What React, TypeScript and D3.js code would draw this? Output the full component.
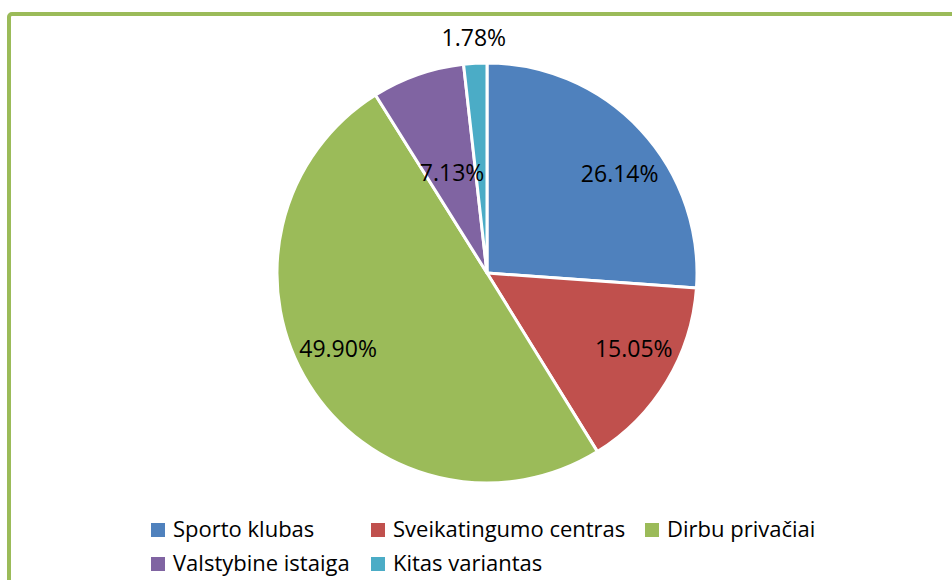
import React from 'react';
import * as d3 from 'd3';

const categories = ['Sporto klubas', 'Sveikatingumo centras', 'Dirbu privačiai', 'Valstybine istaiga', 'Kitas variantas'];
const shares = [26.14, 15.05, 49.9, 7.13, 1.78];
const colors = ['#4F81BD', '#C0504D', '#9BBB59', '#8064A2', '#4BACC6'];

// label placement: distance from centre and a small angular nudge (degrees)
const labelRadius = [166, 165, 167, 106, 236];
const labelNudge = [6, -4, 5, 0, 0];

const W = 952;
const H = 580;
const cx = 487;
const cy = 273;
const radius = 210;
const font = "'Open Sans', sans-serif";

const legendCols = [151, 371, 645];
const legendRows = [523, 557];

export default function App() {
  const pie = d3.pie<number>().sort(null).value(d => d);
  const arcs = pie(shares);
  const arc = d3.arc<d3.PieArcDatum<number>>().innerRadius(0).outerRadius(radius);

  return (
    <svg width={W} height={H} style={{ position: 'absolute', left: 0, top: 0, background: '#fff' }}>
      <rect x={9} y={14} width={W + 20} height={H + 20} rx={3} fill="#fff" stroke="#9BBB59" strokeWidth={4} />
      <g transform={`translate(${cx},${cy})`}>
        {arcs.map((a, i) => (
          <path key={i} d={arc(a) || ''} fill={colors[i]} stroke="#fff" strokeWidth={3} strokeLinejoin="round" />
        ))}
        {arcs.map((a, i) => {
          const mid = (a.startAngle + a.endAngle) / 2 + (labelNudge[i] * Math.PI) / 180;
          const x = Math.sin(mid) * labelRadius[i];
          const y = -Math.cos(mid) * labelRadius[i];
          return (
            <text key={i} x={x} y={y} dy="0.36em" textAnchor="middle" fontFamily={font} fontSize={23} fill="#000">
              {shares[i].toFixed(2)}%
            </text>
          );
        })}
      </g>
      {categories.map((c, i) => {
        const x = legendCols[i % 3];
        const y = legendRows[Math.floor(i / 3)];
        return (
          <g key={c} transform={`translate(${x},${y})`}>
            <rect width={14} height={14} fill={colors[i]} />
            <text x={22} y={14} fontFamily={font} fontSize={22} fill="#000">{c}</text>
          </g>
        );
      })}
    </svg>
  );
}
